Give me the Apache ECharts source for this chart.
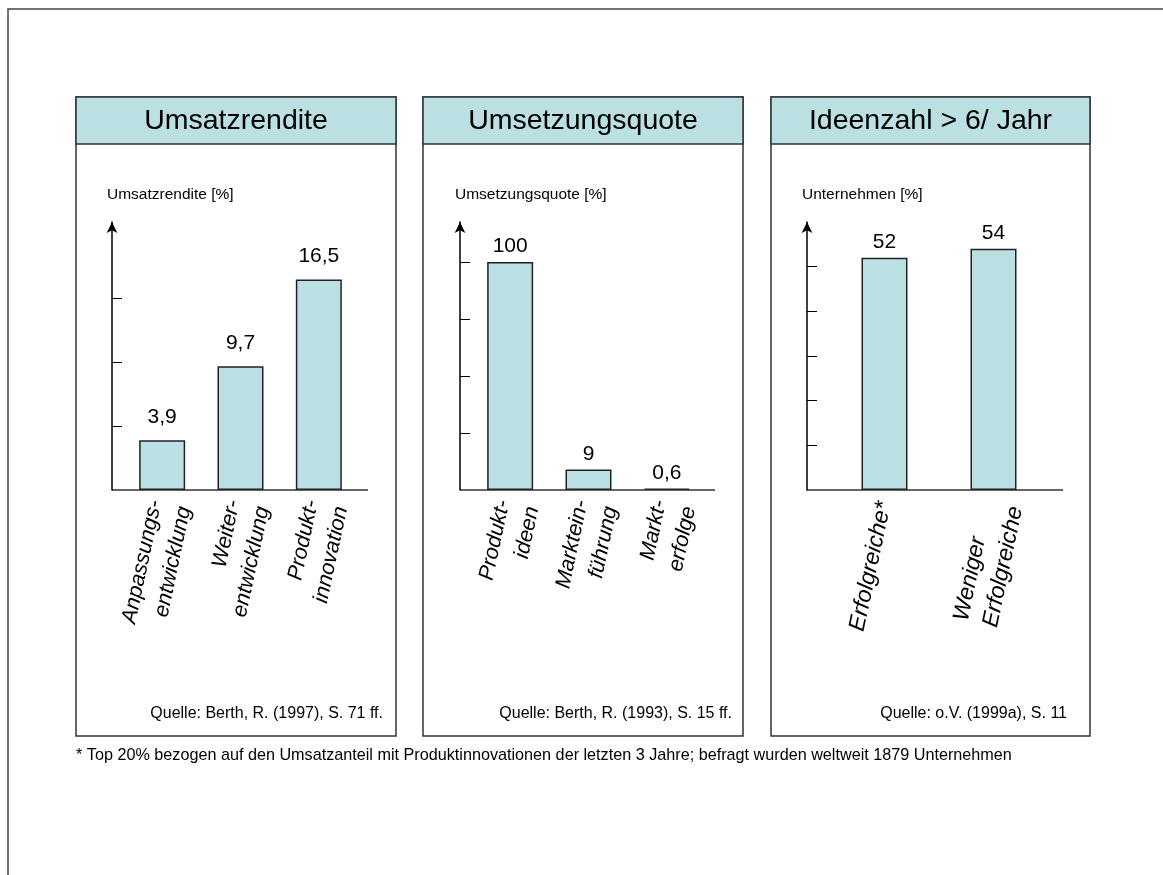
<!DOCTYPE html>
<html>
<head>
<meta charset="utf-8">
<script src="https://cdn.jsdelivr.net/npm/echarts@6/dist/echarts.min.js"></script>
<style>
  html, body { margin: 0; padding: 0; background: #fff; }
  #main { width: 1163px; height: 875px; }
</style>
</head>
<body>
<div id="main"></div>
<script>
// data
const titles = ['Umsatzrendite', 'Umsetzungsquote', 'Ideenzahl > 6/ Jahr'];
const axisNames = ['Umsatzrendite [%]', 'Umsetzungsquote [%]', 'Unternehmen [%]'];
const sources = ['Quelle: Berth, R. (1997), S. 71 ff.', 'Quelle: Berth, R. (1993), S. 15 ff.', 'Quelle: o.V. (1999a), S. 11'];

const catsRendite = ['Anpassungs-\nentwicklung', 'Weiter-\nentwicklung', 'Produkt-\ninnovation'];
const valsRendite = [3.9, 9.7, 16.5];
const ticksRendite = [5, 10, 15];

const catsQuote = ['Produkt-\nideen', 'Marktein-\nführung', 'Markt-\nerfolge'];
const valsQuote = [100, 9, 0.6];
const ticksQuote = [25, 50, 75, 100];

const catsIdeen = ['Erfolgreiche*', 'Weniger\nErfolgreiche'];
const valsIdeen = [52, 54];
const ticksIdeen = [10, 20, 30, 40, 50];

const footnote = '* Top 20% bezogen auf den Umsatzanteil mit Produktinnovationen der letzten 3 Jahre; befragt wurden weltweit 1879 Unternehmen';

// labels whose lines are left-aligned in the original
const leftAligned = ['Weniger\nErfolgreiche'];

// layout
const FONT = '"Liberation Sans", Arial, sans-serif';
const FILL = '#bbe0e3';
const panels = [
  { x0: 76, x1: 396, axisX: 112, gridLeft: 123, gridW: 235, lineEnd: 368, max: 21, labelGap: 13, catSize: 21.5, cats: catsRendite, vals: valsRendite, ticks: ticksRendite, srcEnd: 383 },
  { x0: 423, x1: 743, axisX: 460, gridLeft: 471, gridW: 235, lineEnd: 715, max: 117.5, labelGap: 5, catSize: 21.5, cats: catsQuote, vals: valsQuote, ticks: ticksQuote, srcEnd: 732 },
  { x0: 771, x1: 1090, axisX: 807, gridLeft: 830, gridW: 218, lineEnd: 1063, max: 60, labelGap: 5, catSize: 23, cats: catsIdeen, vals: valsIdeen, ticks: ticksIdeen, srcEnd: 1067 }
];
const TOP = 97, HEAD = 144, BOTTOM = 736, GRID_TOP = 222, BASE = 490;

const chart = echarts.init(document.getElementById('main'));

const grids = [], xAxes = [], yAxes = [], series = [];
const graphics = [
  { type: 'rect', shape: { x: 8, y: 9, width: 1200, height: 900 }, style: { fill: '#fff', stroke: '#444', lineWidth: 1.5 }, z: -10 }
];

panels.forEach((p, i) => {
  const catFont = { fontSize: p.catSize, fontStyle: 'italic', lineHeight: 30, color: '#000', fontFamily: FONT };
  grids.push({ left: p.gridLeft, top: GRID_TOP, width: p.gridW, height: BASE - GRID_TOP });
  xAxes.push({
    type: 'category', gridIndex: i,
    // two-line labels sit a little right of the bar centre, one-line labels on it
    data: p.cats.map(c => c.includes('\n') ? c : { value: c, textStyle: { padding: 0 } }),
    axisLine: { show: false }, axisTick: { show: false },
    axisLabel: Object.assign({
      interval: 0, rotate: 78, margin: 12, padding: [16, 0, 0, 0],
      formatter: v => leftAligned.includes(v) ? v.split('\n').map(s => '{l|' + s + '}').join('\n') : v,
      rich: { l: Object.assign({ align: 'left' }, catFont) }
    }, catFont)
  });
  yAxes.push({
    type: 'value', gridIndex: i, min: 0, max: p.max, offset: p.gridLeft - p.axisX,
    axisLine: { show: true, symbol: ['none', 'arrow'], symbolSize: [8, 11], lineStyle: { color: '#000', width: 1.5 } },
    axisTick: { show: true, inside: true, length: 10, customValues: p.ticks, lineStyle: { color: '#000', width: 1 } },
    axisLabel: { show: false },
    splitLine: { show: false }
  });
  series.push({
    type: 'bar', xAxisIndex: i, yAxisIndex: i, data: p.vals, barWidth: 46,
    itemStyle: { color: FILL, borderColor: '#222', borderWidth: 1.5 },
    label: {
      show: true, position: 'top', distance: p.labelGap, fontSize: 21, color: '#000', fontFamily: FONT,
      formatter: d => String(d.value).replace('.', ',')
    }
  });

  // panel frame and header
  graphics.push(
    { type: 'rect', shape: { x: p.x0, y: TOP, width: p.x1 - p.x0, height: BOTTOM - TOP }, style: { fill: '#fff', stroke: '#333', lineWidth: 1.5 }, z: -5 },
    { type: 'rect', shape: { x: p.x0, y: TOP, width: p.x1 - p.x0, height: HEAD - TOP }, style: { fill: FILL, stroke: '#333', lineWidth: 1.5 }, z: -4 },
    { type: 'text', x: (p.x0 + p.x1) / 2, y: (TOP + HEAD) / 2 + 1, style: { text: titles[i], font: '28.5px ' + FONT, fill: '#000', align: 'center', verticalAlign: 'middle' } },
    { type: 'text', x: p.axisX - 5, y: 195, style: { text: axisNames[i], font: '15.5px ' + FONT, fill: '#000', align: 'left', verticalAlign: 'middle' } },
    { type: 'line', shape: { x1: p.axisX, y1: BASE, x2: p.lineEnd, y2: BASE }, style: { stroke: '#333', lineWidth: 1.5 } },
    { type: 'text', x: p.srcEnd, y: 714, style: { text: sources[i], font: '16px ' + FONT, fill: '#000', align: 'right', verticalAlign: 'middle' } }
  );
});

graphics.push({ type: 'text', x: 76, y: 756, style: { text: footnote, font: '16.2px ' + FONT, fill: '#000', align: 'left', verticalAlign: 'middle' } });

chart.setOption({
  animation: false,
  backgroundColor: '#fff',
  grid: grids,
  xAxis: xAxes,
  yAxis: yAxes,
  series: series,
  graphic: graphics
});
</script>
</body>
</html>
